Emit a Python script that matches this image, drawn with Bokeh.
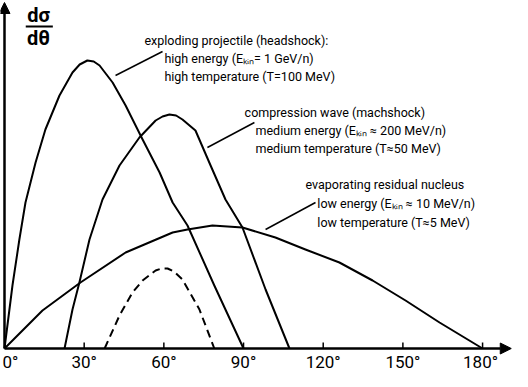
from bokeh.plotting import figure
from bokeh.models import Range1d, Arrow, NormalHead, ColumnDataSource
from bokeh.core.properties import value
from bokeh.embed import file_html
from bokeh.resources import INLINE

FONT = "Roboto"

# ---- data (angle theta in degrees, d sigma / d theta in arbitrary units) ----
head_theta = [0, 3.0, 5.6, 7.9, 11.7, 15.4, 20.7, 25.6, 28.3, 31.2, 33.6, 35.8, 40.7, 45.6, 52.0, 58.4, 63.3, 68.9, 79.0, 90.0]
head_sigma = [0, 63, 109, 146, 186, 219, 253, 276, 284, 288, 287, 283, 266, 243, 209, 176, 146, 123, 63, 0]

mach_theta = [22.6, 25.6, 28.2, 32.0, 36.9, 43.3, 50.8, 56.9, 59.5, 62.1, 64.6, 67.0, 71.9, 77.6, 83.2, 89.6, 98.3, 107.3]
mach_sigma = [0, 39, 66, 109, 149, 183, 211, 228, 232, 234, 233, 229, 218, 183, 149, 121, 59, 0]

dash_theta = [37.7, 43.3, 48.2, 52.0, 56.9, 59.2, 61.4, 63.8, 67.0, 73.4, 79.0]
dash_sigma = [0, 33, 56, 68, 78, 80, 80, 77, 69, 39, 0]

evap_theta = [0, 14.3, 28.6, 45.6, 63.3, 68.9, 78.3, 89.6, 102.0, 113.3, 126.1, 138.6, 151.0, 163.8, 180]
evap_sigma = [0, 38, 66, 96, 116, 119, 123, 121, 111, 99, 86, 68, 48, 26, 0]

tick_values = [0, 30, 60, 90, 120, 150, 180]
tick_labels = ["0°", "30°", "60°", "90°", "120°", "150°", "180°"]

head_lines = ["exploding projectile (headshock):",
              "high energy (Eₖᵢₙ= 1 GeV/n)",
              "high temperature (T=100 MeV)"]
mach_lines = ["compression wave (machshock)",
              "medium energy (Eₖᵢₙ ≈ 200 MeV/n)",
              "medium temperature (T≈50 MeV)"]
evap_lines = ["evaporating residual nucleus",
              "low energy (Eₖᵢₙ ≈ 10 MeV/n)",
              "low temperature (T≈5 MeV)"]

# ---- figure ----
p = figure(width=512, height=371, x_range=Range1d(-1.506, 191.27), y_range=Range1d(-23, 348),
           output_backend="svg", toolbar_location=None, min_border=0)
p.axis.visible = False
p.grid.visible = False
p.outline_line_color = None
p.background_fill_color = "white"

# curves
p.line(head_theta, head_sigma, line_color="black", line_width=2, line_join="round")
p.line(mach_theta, mach_sigma, line_color="black", line_width=2, line_join="round")
p.line(evap_theta, evap_sigma, line_color="black", line_width=2, line_join="round")
p.line(dash_theta, dash_sigma, line_color="black", line_width=2, line_dash="8 5", line_join="round")

# axes with arrows
p.add_layout(Arrow(end=NormalHead(size=11, fill_color="black", line_color="black"),
                   x_start=0, y_start=0, x_end=0, y_end=346, line_width=2.5, line_color="black"))
p.add_layout(Arrow(end=NormalHead(size=11, fill_color="black", line_color="black"),
                   x_start=0, y_start=0, x_end=190.8, y_end=0, line_width=2.5, line_color="black"))

# tick marks and labels
n = len(tick_values)
p.segment(x0=tick_values[1:], y0=[0] * (n - 1), x1=tick_values[1:], y1=[6] * (n - 1),
          line_color="black", line_width=1.5)
tsrc = ColumnDataSource(dict(x=tick_values, y=[-13] * n, t=tick_labels,
                             xo=[6] + [0] * (n - 2) + [-2]))
p.text(x="x", y="y", text="t", x_offset="xo", source=tsrc, text_font=value(FONT), text_font_size="17px",
       text_align="center", text_baseline="middle", text_color="black")

# y-axis label d sigma / d theta
p.text(x=[12.8], y=[334], text=["dσ"], text_font=value(FONT), text_font_size="20px", text_font_style="bold",
       text_align="center", text_baseline="middle", text_color="black")
p.segment(x0=[8.0], y0=[322], x1=[18.2], y1=[322], line_color="black", line_width=2)
p.text(x=[12.8], y=[311], text=["dθ"], text_font=value(FONT), text_font_size="20px", text_font_style="bold",
       text_align="center", text_baseline="middle", text_color="black")

# leader lines
p.segment(x0=[41.8, 76.4, 98.3], y0=[273, 201, 119], x1=[59.5, 94.1, 117.1], y1=[297, 226, 146],
          line_color="black", line_width=1.5)

# annotation texts
def block(lines, x_first, x_rest, y_first, dy):
    xs = [x_first] + [x_rest] * (len(lines) - 1)
    ys = [y_first - i * dy for i in range(len(lines))]
    p.text(x=xs, y=ys, text=lines, text_font=value(FONT), text_font_size="12.5px",
           text_align="left", text_baseline="middle", text_color="black")

block(head_lines, 52.7, 60.2, 308, 18)
block(mach_lines, 90.4, 94.5, 236, 18)
block(evap_lines, 113.3, 117.8, 164, 19)

open("out.html", "w").write(file_html(p, INLINE))
